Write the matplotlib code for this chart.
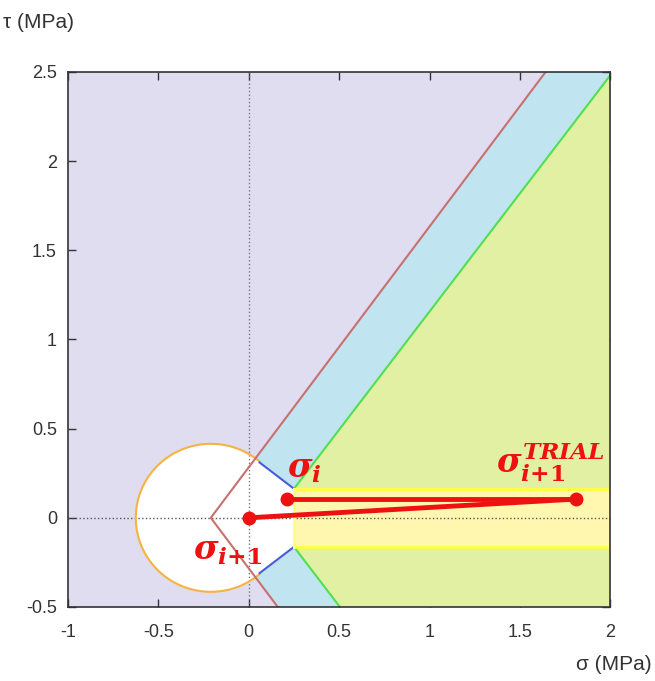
import numpy as np
import matplotlib.pyplot as plt
from matplotlib.patches import Polygon, Circle

plt.rcParams['font.family'] = ['Liberation Sans', 'DejaVu Sans']
plt.rcParams['mathtext.fontset'] = 'custom'
plt.rcParams['mathtext.it'] = 'DejaVu Serif:italic:bold'
plt.rcParams['mathtext.rm'] = 'DejaVu Serif:bold'
plt.rcParams['mathtext.bf'] = 'DejaVu Serif:italic:bold'

# limites de los ejes
xlim = [-1, 2]
ylim = [-0.5, 2.5]

# linea de corte (roja) y linea verde
red_slope = 1.35
red_apex = -0.21
green_slope = 1.325
green_apex = 0.127

# circulo (cap)
circ_center = -0.21
circ_radius = 0.415

# banda amarilla
band_x0 = 0.25
band_half = 0.163

# puntos de tension
sig_x = [0.0, 0.21, 1.81]
sig_y = [0.0, 0.105, 0.105]

# esquinas de la zona blanca (lineas azules)
blue_x = [0.06, band_x0]
blue_y = [0.31, band_half]

fig = plt.figure(figsize=(6.55, 6.81), dpi=100)
ax = fig.add_axes([0.1038, 0.1087, 0.828, 0.7856])
ax.set_xlim(xlim)
ax.set_ylim(ylim)
ax.set_facecolor('#e1ddf1')

def line_x(apex, slope, y):
    return apex + abs(y) / slope

# zona cian (a la derecha de la linea roja)
ytop, ybot = ylim[1], ylim[0]
cyan = Polygon([(red_apex, 0), (line_x(red_apex, red_slope, ytop), ytop), (2.2, ytop),
                (2.2, ybot), (line_x(red_apex, red_slope, ybot), ybot)],
               closed=True, fc='#c0e4f0', ec='none', zorder=1)
ax.add_patch(cyan)

# zona verde (a la derecha de la linea verde)
green = Polygon([(green_apex, 0), (line_x(green_apex, green_slope, ytop), ytop), (2.2, ytop),
                 (2.2, ybot), (line_x(green_apex, green_slope, ybot), ybot)],
                closed=True, fc='#e2f0a4', ec='none', zorder=2)
ax.add_patch(green)

# banda amarilla
band = Polygon([(band_x0, band_half), (2.0, band_half), (2.0, -band_half), (band_x0, -band_half)],
               closed=True, fc='#fff7b0', ec='none', zorder=3)
ax.add_patch(band)

# zona blanca
white_poly = Polygon([(circ_center, 0), (blue_x[0], blue_y[0]), (blue_x[1], blue_y[1]),
                      (blue_x[1], -blue_y[1]), (blue_x[0], -blue_y[0])],
                     closed=True, fc='white', ec='none', zorder=4)
ax.add_patch(white_poly)
ax.add_patch(Circle((circ_center, 0), circ_radius, fc='white', ec='none', zorder=4))

# arco naranja (solo la parte fuera del poligono)
ang0 = np.degrees(np.arctan2(blue_y[0], blue_x[0] - circ_center))
t = np.radians(np.linspace(ang0, 360 - ang0, 200))
ax.plot(circ_center + circ_radius * np.cos(t), circ_radius * np.sin(t),
        color='#f5b342', lw=1.5, zorder=6)

# lineas azules
ax.plot(blue_x, blue_y, color='#4a5ae0', lw=1.5, zorder=6)
ax.plot(blue_x, [-v for v in blue_y], color='#4a5ae0', lw=1.5, zorder=6)

# lineas verdes
ax.plot([band_x0, line_x(green_apex, green_slope, ytop)], [band_half, ytop],
        color='#50e050', lw=1.5, zorder=6)
ax.plot([band_x0, line_x(green_apex, green_slope, ybot)], [-band_half, ybot],
        color='#50e050', lw=1.5, zorder=6)

# bordes amarillos de la banda
ax.plot([band_x0, 2.0], [band_half, band_half], color='#ffff40', lw=2, zorder=6)
ax.plot([band_x0, 2.0], [-band_half, -band_half], color='#ffff40', lw=2, zorder=6)
ax.plot([band_x0, band_x0], [-band_half, band_half], color='#ffff80', lw=2, zorder=6)

# linea roja
ax.plot([line_x(red_apex, red_slope, ytop), red_apex, line_x(red_apex, red_slope, ybot)],
        [ytop, 0, ybot], color='#c87070', lw=1.5, zorder=7)

# ejes punteados
ax.axvline(0, color='#777777', lw=1, ls=':', zorder=5)
ax.axhline(0, color='#555555', lw=1, ls=':', zorder=5)

# trayectoria de tensiones
ax.plot([sig_x[1], sig_x[2]], [sig_y[1], sig_y[2]], color='#ee1111', lw=3.5, zorder=8)
ax.plot([sig_x[0], sig_x[2]], [sig_y[0], sig_y[2]], color='#ee1111', lw=3.5, zorder=8)
ax.plot(sig_x, sig_y, 'o', color='#ee1111', ms=9, zorder=9)

# etiquetas
ax.text(0.21, 0.27, r'$\sigma_i$', color='#ee1111', fontsize=24, zorder=10,
        ha='left', va='center')
ax.text(-0.31, -0.19, r'$\sigma_{i{+}1}$', color='#ee1111', fontsize=24, zorder=10,
        ha='left', va='center')
ax.text(1.37, 0.31, r'$\sigma_{i{+}1}^{TRIAL}$', color='#ee1111', fontsize=24, zorder=10,
        ha='left', va='center')

ax.set_xticks([-1, -0.5, 0, 0.5, 1, 1.5, 2])
ax.set_xticklabels(['-1', '-0.5', '0', '0.5', '1', '1.5', '2'])
ax.set_yticks([-0.5, 0, 0.5, 1, 1.5, 2, 2.5])
ax.set_yticklabels(['-0.5', '0', '0.5', '1', '1.5', '2', '2.5'])
ax.tick_params(direction='in', top=True, right=True, length=6, width=1,
               labelsize=13, colors='#333333')
ax.tick_params(axis='x', pad=12)
ax.tick_params(axis='y', pad=8)
for s in ax.spines.values():
    s.set_color('#333333')
    s.set_linewidth(1.2)
    s.set_zorder(11)

fig.text(0.005, 0.967, u'\u03c4 (MPa)', fontsize=15, color='#333333', va='center', ha='left')
fig.text(0.995, 0.024, u'\u03c3 (MPa)', fontsize=15, color='#333333', va='center', ha='right')

fig.savefig('out.png', dpi=100)
